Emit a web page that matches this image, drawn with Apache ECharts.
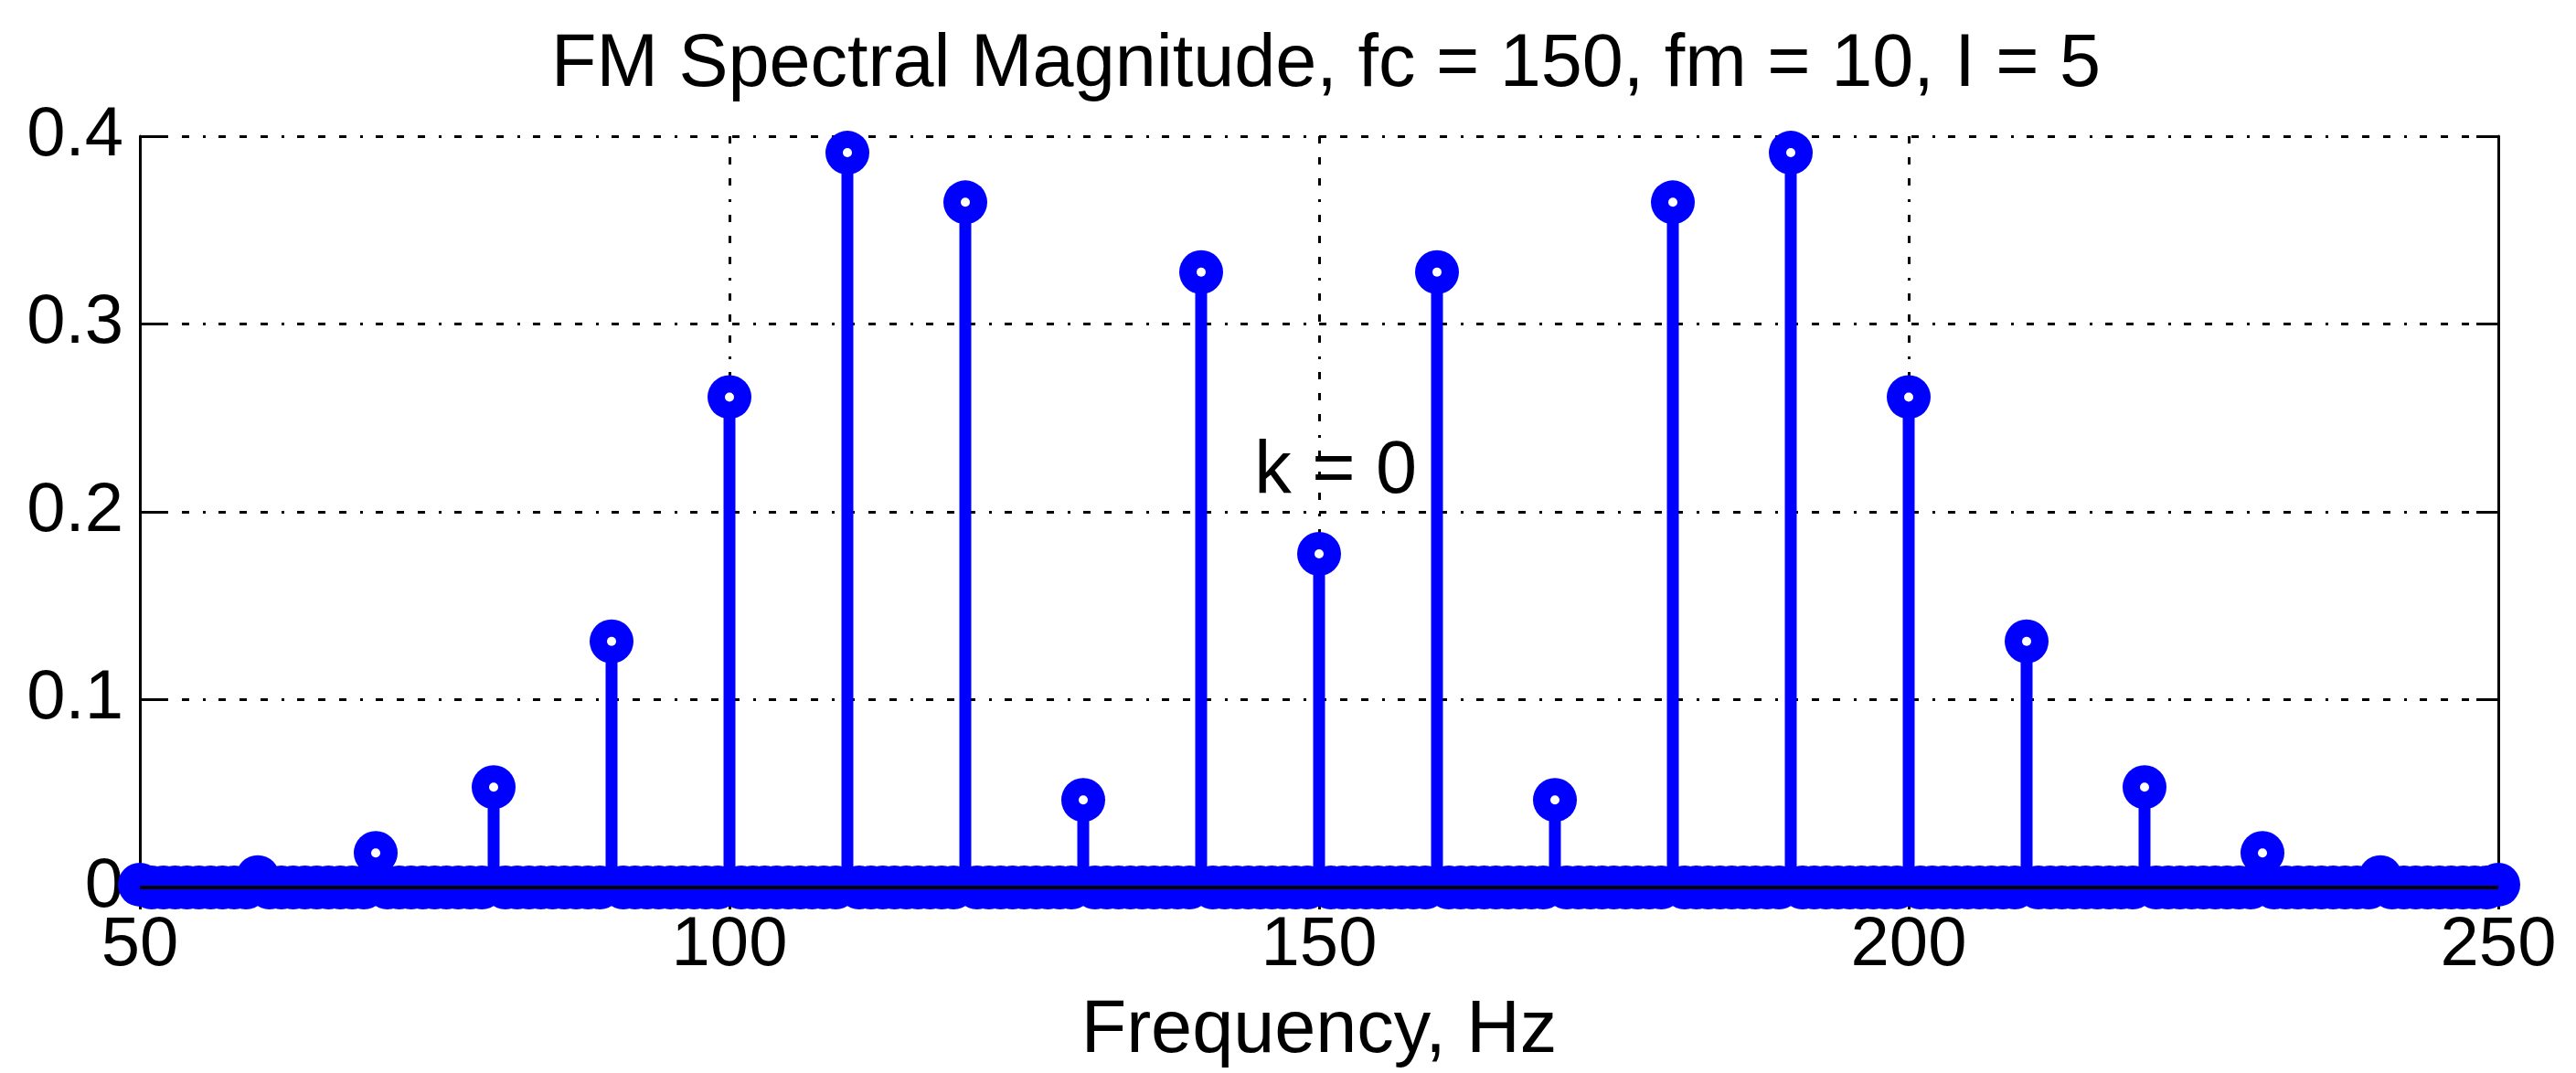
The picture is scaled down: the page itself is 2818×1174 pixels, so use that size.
<!DOCTYPE html>
<html>
<head>
<meta charset="utf-8">
<script src="https://cdn.jsdelivr.net/npm/echarts@6/dist/echarts.min.js"></script>
<style>html,body{margin:0;padding:0;background:#fff}#c{width:2818px;height:1174px}</style>
</head>
<body>
<div id="c"></div>
<script>
// Spectrum sampled every 1 Hz starting at 50 Hz; rows of 10 Hz
const startHz = 50;
const magnitude = [
  0.0015,0,0,0,0,0,0,0,0,0,          // 50-59
  0.0055,0,0,0,0,0,0,0,0,0,          // 60-69
  0.0184,0,0,0,0,0,0,0,0,0,          // 70-79
  0.0534,0,0,0,0,0,0,0,0,0,          // 80-89
  0.1310,0,0,0,0,0,0,0,0,0,          // 90-99
  0.2611,0,0,0,0,0,0,0,0,0,          // 100-109
  0.3912,0,0,0,0,0,0,0,0,0,          // 110-119
  0.3648,0,0,0,0,0,0,0,0,0,          // 120-129
  0.0466,0,0,0,0,0,0,0,0,0,          // 130-139
  0.3276,0,0,0,0,0,0,0,0,0,          // 140-149
  0.1776,0,0,0,0,0,0,0,0,0,          // 150-159
  0.3276,0,0,0,0,0,0,0,0,0,          // 160-169
  0.0466,0,0,0,0,0,0,0,0,0,          // 170-179
  0.3648,0,0,0,0,0,0,0,0,0,          // 180-189
  0.3912,0,0,0,0,0,0,0,0,0,          // 190-199
  0.2611,0,0,0,0,0,0,0,0,0,          // 200-209
  0.1310,0,0,0,0,0,0,0,0,0,          // 210-219
  0.0534,0,0,0,0,0,0,0,0,0,          // 220-229
  0.0184,0,0,0,0,0,0,0,0,0,          // 230-239
  0.0055,0,0,0,0,0,0,0,0,0,          // 240-249
  0.0015                             // 250
];
const xTicks = [50, 100, 150, 200, 250];
const yTicks = [0, 0.1, 0.2, 0.3, 0.4];
const baseline = [[50, 0], [250, 0]];
const annotation = [[151.4, 0.221]];
const annotationText = 'k = 0';
const titleText = 'FM Spectral Magnitude, fc = 150, fm = 10, I = 5';
const xName = 'Frequency, Hz';

const pts = magnitude.map((v, i) => [startHz + i, v]);
const holePts = pts.filter(p => p[1] > 0.01);
const FONT = 'Liberation Sans';
const FS = 76;
const FS_BIG = 81;
const gridDash = [8, 15, 8, 15, 8, 15, 3, 14];

const chart = echarts.init(document.getElementById('c'), null, {renderer: 'canvas'});
chart.setOption({
  animation: false,
  backgroundColor: '#fff',
  title: {
    text: titleText, left: 598, top: 26,
    textStyle: {fontFamily: FONT, fontSize: FS_BIG, fontWeight: 'normal', color: '#000'}
  },
  grid: {left: 153, right: 85, top: 149, bottom: 194, containLabel: false},
  xAxis: [{
    type: 'value', min: xTicks[0], max: xTicks[xTicks.length - 1], interval: 50,
    position: 'bottom',
    name: xName, nameLocation: 'middle', nameGap: 117,
    nameTextStyle: {fontFamily: FONT, fontSize: FS_BIG, color: '#000'},
    axisLine: {show: true, onZero: false, lineStyle: {color: '#000', width: 3}},
    axisTick: {show: true, inside: true, length: 24, lineStyle: {color: '#000', width: 3}},
    axisLabel: {fontFamily: FONT, fontSize: FS, color: '#000', margin: 26},
    splitLine: {show: true, lineStyle: {color: '#000', width: 3, type: gridDash}}
  }, {
    type: 'value', min: xTicks[0], max: xTicks[xTicks.length - 1], interval: 50,
    position: 'top',
    axisLine: {show: true, lineStyle: {color: '#000', width: 3}},
    axisTick: {show: true, inside: true, length: 24, lineStyle: {color: '#000', width: 3}},
    axisLabel: {show: false}, splitLine: {show: false}
  }],
  yAxis: [{
    type: 'value', min: yTicks[0], max: yTicks[yTicks.length - 1], interval: 0.1,
    position: 'left',
    axisLine: {show: true, onZero: false, lineStyle: {color: '#000', width: 3}},
    axisTick: {show: true, inside: true, length: 24, lineStyle: {color: '#000', width: 3}},
    axisLabel: {fontFamily: FONT, fontSize: FS, color: '#000', margin: 18},
    splitLine: {show: true, lineStyle: {color: '#000', width: 3, type: gridDash}}
  }, {
    type: 'value', min: yTicks[0], max: yTicks[yTicks.length - 1], interval: 0.1,
    position: 'right',
    axisLine: {show: true, lineStyle: {color: '#000', width: 3}},
    axisTick: {show: true, inside: true, length: 24, lineStyle: {color: '#000', width: 3}},
    axisLabel: {show: false}, splitLine: {show: false}
  }],
  series: [{
    type: 'bar', data: pts, barWidth: 13, z: 3,
    itemStyle: {color: '#0000ff'}, silent: true
  }, {
    type: 'scatter', data: pts, symbol: 'circle', symbolSize: 48, clip: false, z: 4,
    itemStyle: {color: '#0000ff', opacity: 1}, silent: true
  }, {
    type: 'scatter', data: holePts, symbol: 'circle', symbolSize: 10, clip: false, z: 5,
    itemStyle: {color: '#fff', opacity: 1}, silent: true
  }, {
    type: 'line', data: baseline, symbol: 'none', z: 6,
    lineStyle: {color: '#000', width: 4}, silent: true
  }, {
    type: 'scatter', data: annotation, symbolSize: 0, z: 7,
    itemStyle: {opacity: 1},
    label: {show: true, position: 'inside', formatter: annotationText,
      fontFamily: FONT, fontSize: FS_BIG, color: '#000'}, silent: true
  }]
});
</script>
</body>
</html>
